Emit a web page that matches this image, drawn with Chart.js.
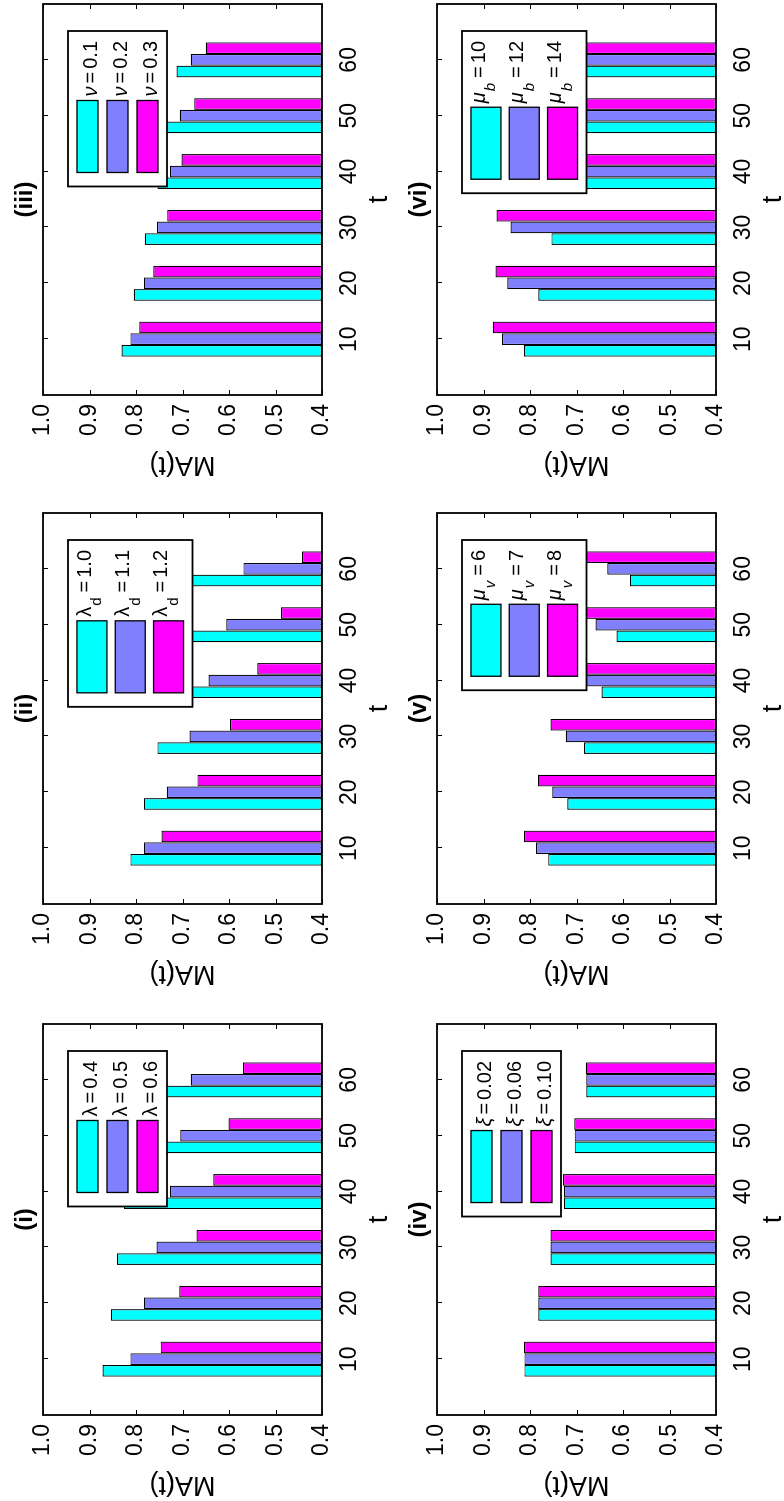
<!DOCTYPE html>
<html>
<head>
<meta charset="utf-8">
<script src="https://cdn.jsdelivr.net/npm/chart.js@4.4.1/dist/chart.umd.min.js"></script>
<style>
  html, body { margin: 0; padding: 0; background: #fff; overflow: hidden; }
  /* the whole figure is laid out upright, then turned a quarter turn to the left */
  #fig { position: absolute; left: 0; top: 0; width: 1501px; height: 784px;
         transform-origin: 0 0; transform: translate(0, 1501px) rotate(-90deg); }
  #fig div { position: absolute; width: 481px; height: 394px; }
</style>
</head>
<body>
<div id="fig"></div>
<script>
const times = [10, 20, 30, 40, 50, 60];
const valueTicks = [0.4, 0.5, 0.6, 0.7, 0.8, 0.9, 1.0];
const colors = ['#00ffff', '#8080ff', '#ff00ff'];

// (i) lambda
const lamLabels = ['0.4', '0.5', '0.6'];
const lam04 = [0.872, 0.854, 0.841, 0.826, 0.810, 0.792];
const lam05 = [0.812, 0.783, 0.756, 0.727, 0.705, 0.682];
const lam06 = [0.747, 0.707, 0.670, 0.634, 0.601, 0.570];

// (ii) lambda_d
const lamdLabels = ['1.0', '1.1', '1.2'];
const lamd10 = [0.812, 0.783, 0.754, 0.728, 0.704, 0.684];
const lamd11 = [0.783, 0.734, 0.685, 0.644, 0.606, 0.569];
const lamd12 = [0.745, 0.668, 0.598, 0.539, 0.488, 0.443];

// (iii) nu
const nuLabels = ['0.1', '0.2', '0.3'];
const nu01 = [0.831, 0.805, 0.781, 0.754, 0.733, 0.713];
const nu02 = [0.812, 0.783, 0.755, 0.727, 0.706, 0.682];
const nu03 = [0.793, 0.763, 0.733, 0.702, 0.675, 0.650];

// (iv) xi
const xiLabels = ['0.02', '0.06', '0.10'];
const xi002 = [0.812, 0.782, 0.756, 0.727, 0.704, 0.679];
const xi006 = [0.812, 0.782, 0.756, 0.727, 0.704, 0.679];
const xi010 = [0.813, 0.782, 0.756, 0.729, 0.705, 0.680];

// (v) mu_v
const muvLabels = ['6', '7', '8'];
const muv6 = [0.761, 0.720, 0.684, 0.646, 0.614, 0.585];
const muv7 = [0.787, 0.752, 0.723, 0.692, 0.659, 0.634];
const muv8 = [0.813, 0.783, 0.756, 0.730, 0.703, 0.682];

// (vi) mu_b
const mubLabels = ['10', '12', '14'];
const mub10 = [0.813, 0.782, 0.754, 0.740, 0.725, 0.710];
const mub12 = [0.860, 0.849, 0.842, 0.836, 0.830, 0.825];
const mub14 = [0.880, 0.874, 0.872, 0.870, 0.868, 0.866];

const panels = [
  { title: '(i)',   sym: 'λ', sub: '',  italic: false, labels: lamLabels,  series: [lam04, lam05, lam06] },
  { title: '(ii)',  sym: 'λ', sub: 'd', italic: false, labels: lamdLabels, series: [lamd10, lamd11, lamd12] },
  { title: '(iii)', sym: 'ν', sub: '',  italic: true,  labels: nuLabels,   series: [nu01, nu02, nu03] },
  { title: '(iv)',  sym: 'ξ', sub: '',  italic: true,  labels: xiLabels,   series: [xi002, xi006, xi010] },
  { title: '(v)',   sym: 'μ', sub: 'v', italic: true,  labels: muvLabels,  series: [muv6, muv7, muv8] },
  { title: '(vi)',  sym: 'μ', sub: 'b', italic: true,  labels: mubLabels,  series: [mub10, mub12, mub14] }
];

const FONT = "'Liberation Sans', Arial, Helvetica, sans-serif";
Chart.defaults.font.family = FONT;
Chart.defaults.color = '#000';

function drawLegend(chart, p) {
  const {ctx, chartArea: a} = chart;
  const hasSub = p.sub !== '';
  const rowH = hasSub ? 38.3 : 30;
  const patchH = hasSub ? 30 : 21;
  const pad = hasSub ? 4.8 : 4.5;
  const it = p.italic ? 'italic ' : '';
  const mainFont = '20px ' + FONT;
  const symFont = it + '20px ' + FONT;
  const subFont = it + '15px ' + FONT;

  ctx.save();
  ctx.font = symFont;
  const symW = ctx.measureText(p.sym).width;
  ctx.font = subFont;
  const subW = hasSub ? ctx.measureText(p.sub).width + 3 : 0;
  ctx.font = mainFont;
  const eqW = ctx.measureText('=').width + 6;
  const valW = Math.max(...p.labels.map(s => ctx.measureText(s).width));
  const boxW = 14 + 72 + 4 + symW + subW + eqW + valW + 10;
  const boxH = 2 * pad + 3 * rowH;
  const right = a.right - 27, top = a.top + 25, left = right - boxW;

  ctx.fillStyle = '#fff';
  ctx.fillRect(left, top, boxW, boxH);
  ctx.strokeStyle = '#000';
  ctx.lineWidth = 1.8;
  ctx.strokeRect(left, top, boxW, boxH);

  p.labels.forEach((s, k) => {
    const cy = top + pad + rowH * (k + 0.5);
    ctx.fillStyle = colors[k];
    ctx.fillRect(left + 14, cy - patchH / 2, 72, patchH);
    ctx.lineWidth = 1.3;
    ctx.strokeRect(left + 14, cy - patchH / 2, 72, patchH);

    let x = left + 14 + 72 + 4;
    const base = hasSub ? cy - 1.3 : cy + 9.5;
    ctx.fillStyle = '#000';
    ctx.textAlign = 'left';
    ctx.textBaseline = 'alphabetic';
    ctx.font = symFont;
    ctx.fillText(p.sym, x, base);
    x += symW;
    if (hasSub) {
      ctx.font = subFont;
      ctx.fillText(p.sub, x + 1, base + 10.8);
      x += subW;
    }
    ctx.font = mainFont;
    ctx.fillText('=', x + 3, base);
    x += eqW;
    ctx.fillText(s, x, base);
  });
  ctx.restore();
}

function makePlugin(p) {
  return {
    id: 'matlabBox',
    beforeDatasetsDraw(chart) {
      const {ctx, chartArea: a, scales: {x, y}} = chart;
      ctx.save();
      ctx.strokeStyle = '#000';
      ctx.lineWidth = 1;
      ctx.beginPath();
      times.forEach(t => {
        const px = Math.round(x.getPixelForValue(t)) + 0.5;
        ctx.moveTo(px, a.top); ctx.lineTo(px, a.top + 5);
        ctx.moveTo(px, a.bottom); ctx.lineTo(px, a.bottom - 5);
      });
      valueTicks.forEach(v => {
        const py = Math.round(y.getPixelForValue(v)) + 0.5;
        ctx.moveTo(a.left, py); ctx.lineTo(a.left + 5, py);
        ctx.moveTo(a.right, py); ctx.lineTo(a.right - 5, py);
      });
      ctx.stroke();
      ctx.restore();
    },
    afterDatasetsDraw(chart) {
      const {ctx, chartArea: a} = chart;
      ctx.save();
      ctx.strokeStyle = '#000';
      ctx.lineWidth = 1.8;
      ctx.strokeRect(a.left, a.top, a.right - a.left, a.bottom - a.top);
      // panel title
      ctx.fillStyle = '#000';
      ctx.font = 'bold 24px ' + FONT;
      ctx.textAlign = 'center';
      ctx.textBaseline = 'middle';
      ctx.fillText(p.title, (a.left + a.right) / 2, 25.3);
      ctx.restore();
      drawLegend(chart, p);
    }
  };
}

function config(p) {
  return {
    type: 'bar',
    data: {
      datasets: p.series.map((vals, k) => ({
        label: p.labels[k],
        data: times.map((t, i) => ({x: t, y: vals[i]})),
        backgroundColor: colors[k],
        borderColor: '#000',
        borderWidth: 1.2,
        borderSkipped: false,
        base: 0.4,
        categoryPercentage: 0.627,
        barPercentage: 1
      }))
    },
    options: {
      responsive: false,
      animation: false,
      events: [],
      layout: {padding: {left: 0, right: 4, top: 43, bottom: 0}},
      plugins: {legend: {display: false}, tooltip: {enabled: false}},
      scales: {
        x: {
          type: 'linear',
          offset: false,
          min: 0,
          max: 70,
          afterBuildTicks: s => { s.ticks = times.map(v => ({value: v})); },
          afterFit: s => { s.height = 72; },
          grid: {display: false, drawTicks: false},
          border: {display: false},
          ticks: {font: {size: 23}, padding: 13.5, maxRotation: 0, autoSkip: false,
                  callback: v => String(v)},
          title: {display: true, text: 't', font: {size: 27, lineHeight: 1}, padding: {top: 0, bottom: 1}}
        },
        y: {
          min: 0.4,
          max: 1.0,
          afterBuildTicks: s => { s.ticks = valueTicks.map(v => ({value: v})); },
          afterFit: s => { s.width = 86; },
          grid: {display: false, drawTicks: false},
          border: {display: false},
          ticks: {font: {size: 23}, padding: 9, callback: v => Number(v).toFixed(1)},
          title: {display: true, text: 'MA(t)', font: {size: 27}, padding: {top: 0, bottom: 0}}
        }
      }
    },
    plugins: [makePlugin(p)]
  };
}

const colLeft = [0, 511, 1020];
const rowTop = [0, 394];
const fig = document.getElementById('fig');

panels.forEach((p, n) => {
  const holder = document.createElement('div');
  holder.style.left = colLeft[n % 3] + 'px';
  holder.style.top = rowTop[Math.floor(n / 3)] + 'px';
  const cv = document.createElement('canvas');
  cv.width = 481;
  cv.height = 394;
  holder.appendChild(cv);
  fig.appendChild(holder);
  new Chart(cv.getContext('2d'), config(p));
});
</script>
</body>
</html>
